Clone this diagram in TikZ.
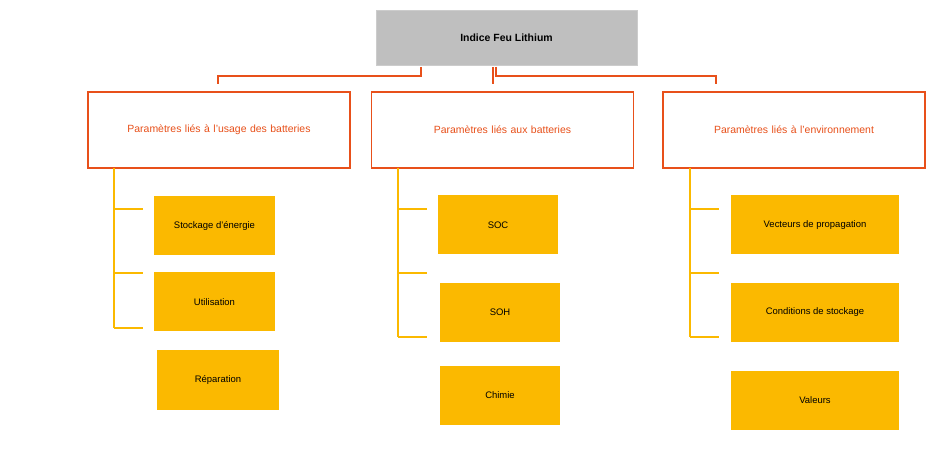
\documentclass[tikz,border=0pt]{standalone}
\usepackage{fontspec}
\setmainfont{Liberation Sans}
\usetikzlibrary{positioning}
\definecolor{feuorange}{HTML}{E8501A}
\definecolor{feujaune}{HTML}{FBB900}
\definecolor{feugris}{HTML}{BFBFBF}
\tikzset{
    titre/.style={rectangle, fill=feugris, draw=feugris!80!white, minimum width=261bp, minimum height=55bp, font=\fontsize{10.5}{12}\selectfont\bfseries},
    famille/.style={rectangle, draw=feuorange, line width=1.5bp, fill=white, minimum width=262bp, minimum height=76bp, align=center, text width=240bp, font=\fontsize{10.5}{13}\selectfont, text=feuorange},
    param/.style={rectangle, fill=feujaune, minimum height=59bp, align=center, font=\fontsize{9.5}{11}\selectfont},
    lien/.style={draw=feuorange, line width=1.5bp},
    branche/.style={draw=feujaune, line width=1.5bp}
}
\begin{document}
\begin{tikzpicture}[x=1bp, y=-1bp]
    \useasboundingbox (0,0) rectangle (945,455);
    \node[titre] (indice) at (506.5,37.5) {Indice Feu Lithium};

    % familles
    \node[famille] (usage) at (219,130) {Paramètres liés à l’usage des batteries};
    \node[famille] (batt) at (502.5,130) {Paramètres liés aux batteries};
    \node[famille] (env) at (794,130) {Paramètres liés à l’environnement};

    % liens vers les familles
    \coordinate (a1) at (421,67);
    \coordinate (a2) at (493,67);
    \coordinate (a3) at (496,67);
    \draw[lien] (a1) |- (218,76) -- (218,84);
    \draw[lien] (a2) -- (493,84);
    \draw[lien] (a3) |- (716,76) -- (716,84);

    % usage
    \node[param, minimum width=121bp] (stock) at (214.5,225.5) {Stockage d’énergie};
    \node[param, minimum width=121bp] (util) at (214.5,302) {Utilisation};
    \node[param, minimum width=122bp] (repar) at (218,380) {Réparation};
    \draw[branche] (114,168) -- (114,328);
    \foreach \y in {209,273,328} \draw[branche] (114,\y) -- (143,\y);

    % batteries
    \node[param, minimum width=120bp] (soc) at (498,225) {SOC};
    \node[param, minimum width=120bp] (soh) at (500,312.5) {SOH};
    \node[param, minimum width=120bp] (chimie) at (500,395.5) {Chimie};
    \draw[branche] (398,168) -- (398,337);
    \foreach \y in {209,273,337} \draw[branche] (398,\y) -- (427,\y);

    % environnement
    \node[param, minimum width=168bp] (vect) at (815,225) {Vecteurs de propagation};
    \node[param, minimum width=168bp] (cond) at (815,312.5) {Conditions de stockage};
    \node[param, minimum width=168bp] (val) at (815,400.5) {Valeurs};
    \draw[branche] (690,168) -- (690,337);
    \foreach \y in {209,273,337} \draw[branche] (690,\y) -- (719,\y);
\end{tikzpicture}
\end{document}
